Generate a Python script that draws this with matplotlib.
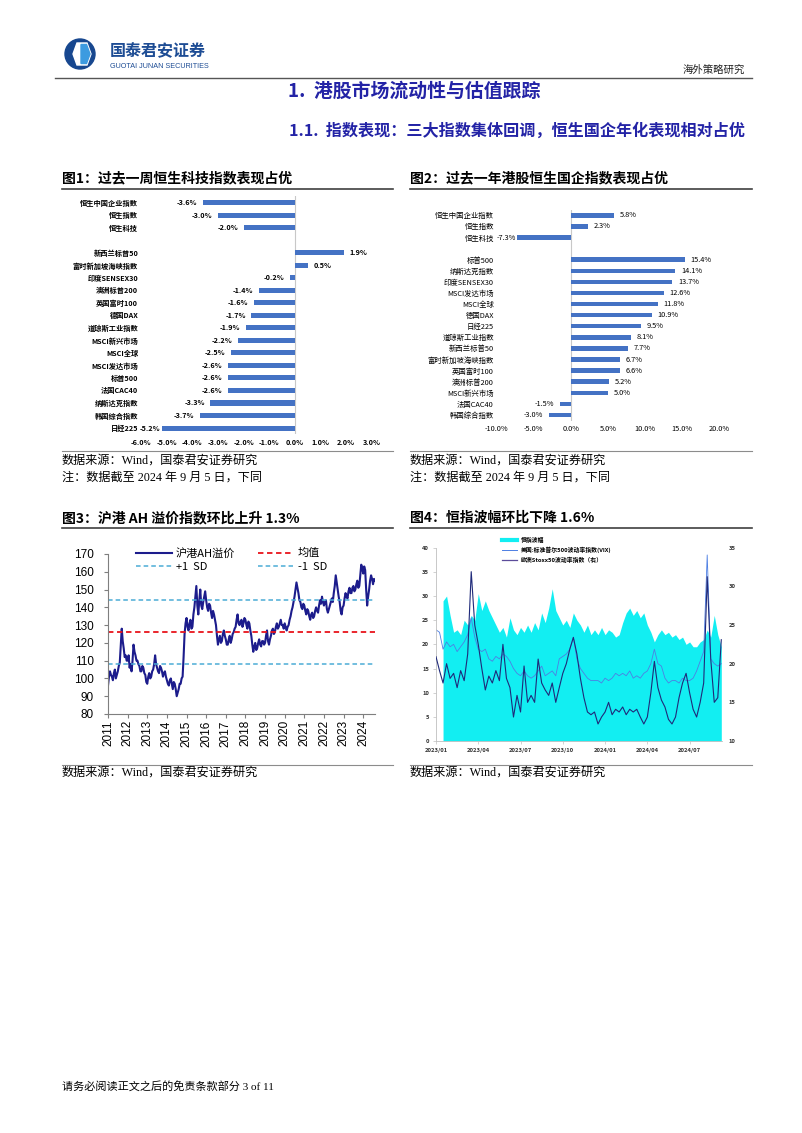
import matplotlib
matplotlib.use('Agg')
import matplotlib.pyplot as plt
import numpy as np
from matplotlib.patches import Circle, Polygon
from matplotlib.lines import Line2D

plt.rcParams['font.family'] = ['Noto Sans CJK SC', 'DejaVu Sans']
plt.rcParams['axes.unicode_minus'] = False

SERIF = ['Liberation Serif', 'Noto Sans CJK SC']
SANS = ['Liberation Sans', 'Noto Sans CJK SC']
BAR = '#4472C4'
HEAD = '#2323A6'

# ---- data: chart 1 (past week) ----
week_hk_names = ['恒生中国企业指数', '恒生指数', '恒生科技']
week_hk_vals = [-3.6, -3.0, -2.0]
week_gl_names = ['新西兰标普50', '富时新加坡海峡指数', '印度SENSEX30', '澳洲标普200',
                 '英国富时100', '德国DAX', '道琼斯工业指数', 'MSCI新兴市场', 'MSCI全球',
                 'MSCI发达市场', '标普500', '法国CAC40', '纳斯达克指数', '韩国综合指数', '日经225']
week_gl_vals = [1.9, 0.5, -0.2, -1.4, -1.6, -1.7, -1.9, -2.2, -2.5, -2.6, -2.6, -2.6, -3.3, -3.7, -5.2]

# ---- data: chart 2 (past year) ----
year_hk_names = ['恒生中国企业指数', '恒生指数', '恒生科技']
year_hk_vals = [5.8, 2.3, -7.3]
year_gl_names = ['标普500', '纳斯达克指数', '印度SENSEX30', 'MSCI发达市场', 'MSCI全球', '德国DAX',
                 '日经225', '道琼斯工业指数', '新西兰标普50', '富时新加坡海峡指数', '英国富时100',
                 '澳洲标普200', 'MSCI新兴市场', '法国CAC40', '韩国综合指数']
year_gl_vals = [15.4, 14.1, 13.7, 12.6, 11.8, 10.9, 9.5, 8.1, 7.7, 6.7, 6.6, 5.2, 5.0, -1.5, -3.0]

# ---- data: chart 3 (AH premium, sampled every 0.05 year from 2011.0) ----
ah_vals = [96, 101, 104, 102, 101, 99, 103, 105, 100, 102, 104, 107, 109, 118, 128, 121, 117, 112, 113, 110,
           110, 113, 106, 108, 104, 110, 119, 115, 113, 110, 110, 108, 107, 104, 104, 107, 106, 103, 102, 98,
           97, 101, 103, 100, 101, 104, 105, 108, 113, 108, 106, 104, 103, 107, 106, 104, 101, 103, 104, 101,
           99, 97, 96, 99, 100, 97, 94, 98, 97, 94, 90, 92, 94, 97, 97, 100, 101, 112, 125, 131,
           134, 129, 127, 131, 133, 128, 129, 136, 140, 146, 152, 141, 136, 144, 150, 141, 139, 143, 146, 149,
           144, 140, 138, 142, 141, 137, 134, 138, 136, 133, 130, 124, 119, 122, 124, 120, 121, 125, 127, 124,
           122, 119, 119, 122, 124, 120, 122, 125, 126, 128, 129, 133, 136, 131, 130, 132, 133, 129, 131, 134,
           133, 130, 128, 132, 131, 127, 124, 119, 115, 118, 120, 116, 117, 120, 122, 119, 118, 121, 121, 119,
           120, 124, 127, 121, 119, 122, 124, 127, 128, 125, 126, 129, 131, 128, 129, 131, 133, 130, 130, 128,
           131, 129, 127, 129, 130, 133, 135, 138, 140, 143, 146, 150, 154, 151, 148, 144, 143, 140, 139, 142,
           141, 138, 136, 139, 138, 135, 133, 136, 137, 134, 135, 138, 140, 138, 137, 141, 144, 142, 146, 143,
           141, 143, 144, 139, 137, 139, 141, 143, 145, 143, 148, 152, 158, 154, 150, 146, 143, 138, 136, 140,
           141, 145, 148, 146, 145, 149, 151, 148, 148, 151, 152, 149, 150, 153, 155, 151, 152, 158, 164, 162,
           159, 163, 161, 150, 141, 146, 150, 155, 158, 156, 153, 156, 155]
ah_years = 2011 + 0.05 * np.arange(len(ah_vals))
ah_mean, ah_up, ah_dn = 126, 144, 108
year_ticks = list(range(2011, 2025))

# ---- data: chart 4 (months since 2023/01, weekly samples) ----
hsi_vol = [29, 30, 26, 22.5, 23, 22, 25, 24, 26, 25, 30.5, 27, 29, 27, 25.5, 24, 22.5, 23.5,
           21.5, 25.5, 23, 22, 23.5, 22.5, 24, 22.5, 24.5, 23, 26.5, 24.5, 27.5, 31.5, 27, 25.5,
           24, 25, 23.5, 26.5, 25, 24, 22.5, 24, 22, 23, 22, 23.5, 22, 23, 22.5, 21.5, 22, 24.5,
           26.5, 27.5, 26, 27, 25.5, 26.5, 24, 22.5, 20.5, 22, 23, 22, 22.5, 21.5, 22, 21, 21.5,
           20, 20.5, 19.5, 19.5, 20.5, 21, 23, 21.5, 26, 22, 19.5]
hsi_m = 0.5 + 0.25 * np.arange(len(hsi_vol))
vix = [23, 22.5, 19, 20.5, 19.5, 20, 18.5, 19.5, 20.5, 22, 25.5, 21.5, 19, 18.5, 19, 17, 16.5,
       17.5, 17, 18, 17.5, 16.5, 15, 14, 13.5, 14.5, 13.5, 13, 13.5, 14.5, 15.5, 13.5, 14, 14.5,
       13.5, 17, 17.5, 18, 19, 21.5, 17, 15, 14, 13, 12.5, 12.5, 12.5, 12, 13, 12.5, 13, 14,
       13.5, 14, 13.5, 14.5, 13, 13.5, 13, 14, 14.5, 16, 19, 16, 15.5, 13, 12, 12.5, 12.5, 12,
       13, 12.5, 12.5, 13, 14.5, 16.5, 18.5, 38.5, 17, 16, 15.5, 16]
vix_m = 0.25 * np.arange(len(vix))
stoxx = [20.9, 19.1, 17.5, 20, 18.1, 18.75, 16.9, 19.1, 17.8, 21.25, 31.9, 25, 22.5, 19.4,
         16.6, 18.4, 17.5, 19.1, 17.8, 22.5, 18.1, 16.9, 13.1, 15.9, 13.75, 19.7, 15, 15.9, 15,
         20.6, 17.5, 16.6, 15.9, 17.5, 15, 16.9, 18.75, 20, 21.9, 23.4, 21.25, 18.1, 15.6, 13.75,
         13.4, 13.75, 12.2, 13.1, 13.75, 15, 13.4, 14.1, 13.75, 14.4, 13.4, 14.1, 13.75, 14.1,
         13.1, 12.2, 13.1, 16.25, 20.3, 16.9, 15.3, 14.4, 12.8, 12.2, 13.1, 15.6, 17.5, 18.75,
         16.25, 14.1, 13.1, 15, 17.5, 31.25, 20.6, 15, 15.6, 23.1]
stoxx_m = 0.25 * np.arange(len(stoxx))
m_ticks = [0, 3, 6, 9, 12, 15, 18]
m_labels = ['2023/01', '2023/04', '2023/07', '2023/10', '2024/01', '2024/04', '2024/07']

W, H = 802, 1133


def box(x0, y0, x1, y1):
    return [x0 / W, 1 - y1 / H, (x1 - x0) / W, (y1 - y0) / H]


fig = plt.figure(figsize=(W / 100, H / 100), dpi=100)
page = fig.add_axes([0, 0, 1, 1])
page.set_xlim(0, W)
page.set_ylim(H, 0)
page.axis('off')

# header / logo
page.add_patch(Circle((80, 54), 15, color='#17478F'))
page.add_patch(Polygon([(73, 54), (77, 43), (87, 43), (91, 54), (87, 65), (77, 65)], color='white'))
page.add_patch(Polygon([(81, 44.5), (86.5, 44.5), (90, 54), (86.5, 63.5), (81, 63.5)], color='#3D9BE0'))
page.text(110, 51, '国泰君安证券', fontsize=11.5, weight='bold', color='#1D4C94', va='center')
page.text(110, 66, 'GUOTAI JUNAN SECURITIES', fontsize=5.2, color='#1D4C94', va='center',
          family=SANS)
page.text(745, 70, '海外策略研究', fontsize=7.5, color='#222222', ha='right', va='center')
page.plot([55, 752], [78, 78], color='#555555', lw=1.0)

page.text(288, 91, '1.  港股市场流动性与估值跟踪', fontsize=13.6, weight='bold', color=HEAD,
          va='center')
page.text(745, 131, '1.1.  指数表现：三大指数集体回调，恒生国企年化表现相对占优', fontsize=11.6,
          weight='bold', color=HEAD, ha='right', va='center')

titles = [(62, 178, '图1：过去一周恒生科技指数表现占优'),
          (410, 178, '图2：过去一年港股恒生国企指数表现占优'),
          (62, 518, '图3：沪港 AH 溢价指数环比上升 1.3%'),
          (410, 518, '图4：恒指波幅环比下降 1.6%')]
for x, y, t in titles:
    page.text(x, y, t, fontsize=10, weight='bold', va='center')
for y in (189, 528):
    page.plot([62, 393], [y, y], color='#404040', lw=1.2)
    page.plot([410, 752], [y, y], color='#404040', lw=1.2)
for y in (451, 765):
    page.plot([62, 393], [y, y], color='#8C8C8C', lw=0.8)
    page.plot([410, 752], [y, y], color='#8C8C8C', lw=0.8)
for x in (62, 410):
    page.text(x, 461, '数据来源：Wind，国泰君安证券研究', fontsize=8.7, va='center', family=SERIF)
    page.text(x, 478, '注：数据截至 2024 年 9 月 5 日，下同', fontsize=8.7, va='center', family=SERIF)
    page.text(x, 773, '数据来源：Wind，国泰君安证券研究', fontsize=8.7, va='center', family=SERIF)
page.text(62, 1086, '请务必阅读正文之后的免责条款部分 3 of 11', fontsize=8, va='center', family=SERIF)


def bar_panel(rect, hk_names, hk_vals, gl_names, gl_vals, xlim, step, fs, weight):
    ax = fig.add_axes(rect)
    names = hk_names + [''] + gl_names
    vals = hk_vals + [None] + gl_vals
    pos = [i for i, v in enumerate(vals) if v is not None]
    vv = [v for v in vals if v is not None]
    ax.barh(pos, vv, height=0.4, color=BAR, zorder=2)
    ax.axvline(0, color='#C8C8C8', lw=0.8, zorder=1)
    for p, v in zip(pos, vv):
        if v >= 0:
            off = 4
        elif v - xlim[0] < 1.2 * step:
            off = -0.8   # bars near the left edge: label sits tight against the bar end
        else:
            off = -4
        ax.annotate(f'{v:.1f}%', (v, p), xytext=(off, 0),
                    textcoords='offset points', ha='left' if v >= 0 else 'right',
                    va='center', fontsize=fs, weight=weight)
    ax.set_xlim(*xlim)
    ax.set_ylim(len(vals) - 0.5, -0.5)
    ax.set_yticks(range(len(vals)), names, fontsize=fs, weight=weight)
    ticks = np.arange(xlim[0], xlim[1] + step / 2, step)
    ax.set_xticks(ticks, [f'{t:.1f}%' for t in ticks], fontsize=fs, weight=weight)
    ax.tick_params(axis='both', length=0)
    ax.tick_params(axis='x', pad=3.5)
    ax.tick_params(axis='y', pad=2)
    for s in ax.spines.values():
        s.set_visible(False)
    return ax


bar_panel(box(141, 196.4, 371.7, 434.3), week_hk_names, week_hk_vals, week_gl_names,
          week_gl_vals, (-6, 3), 1, 5.2, 'bold')
bar_panel(box(496.7, 209.8, 719, 420.5), year_hk_names, year_hk_vals, year_gl_names,
          year_gl_vals, (-10, 20), 5, 5.3, 'normal')

# ---- chart 3 ----
ax3 = fig.add_axes(box(108, 554, 375, 714))
l_ah, = ax3.plot(ah_years, ah_vals, color='#1C1C8C', lw=1.5, label='沪港AH溢价')
l_mean = ax3.axhline(ah_mean, color='#E8141B', ls=(0, (3, 2)), lw=1.3, label='均值')
l_up = ax3.axhline(ah_up, color='#4BACD6', ls=(0, (3, 2)), lw=1.1, label='+1  SD')
l_dn = ax3.axhline(ah_dn, color='#4BACD6', ls=(0, (3, 2)), lw=1.1, label='-1  SD')
ax3.set_xlim(2011, ah_years[-1])
ax3.set_ylim(80, 170)
ax3.set_yticks(range(80, 171, 10))
ax3.set_xticks(year_ticks)
ax3.set_xticklabels([str(y) for y in year_ticks], rotation=90)
for lab in ax3.get_xticklabels() + ax3.get_yticklabels():
    lab.set_family(SANS)
    lab.set_fontsize(8.5)
ax3.tick_params(axis='both', length=3, width=0.8, color='#7F7F7F')
ax3.tick_params(axis='y', pad=7)
ax3.tick_params(axis='x', pad=1.5)
for s in ('top', 'right'):
    ax3.spines[s].set_visible(False)
for s in ('left', 'bottom'):
    ax3.spines[s].set_color('#7F7F7F')
    ax3.spines[s].set_linewidth(0.8)
ax3.legend([l_ah, l_up, l_mean, l_dn], ['沪港AH溢价', '+1  SD', '均值', '-1  SD'], ncol=2,
           frameon=False, loc='upper left', bbox_to_anchor=((136 - 108) / 267, 1.04),
           borderpad=0, borderaxespad=0, handlelength=3.2, handletextpad=0.4,
           columnspacing=2.0, labelspacing=0.35, fontsize=8)

# ---- chart 4 ----
ax4 = fig.add_axes(box(436, 547.7, 722, 741))
ax4.fill_between(hsi_m, hsi_vol, 0, color='#12EEF2', lw=0, zorder=1)
ax4.plot(vix_m, vix, color='#4D7FE3', lw=0.6, zorder=2)
ax4.set_xlim(0, 20.3)
ax4.set_ylim(0, 40)
ax4.set_yticks(range(0, 41, 5))
ax4.set_xticks(m_ticks, m_labels)
ax4r = ax4.twinx()
ax4r.plot(stoxx_m, stoxx, color='#1F2A7A', lw=0.8)
ax4r.set_ylim(10, 35)
ax4r.set_yticks(range(10, 36, 5))
for a in (ax4, ax4r):
    for lab in a.get_xticklabels() + a.get_yticklabels():
        lab.set_fontsize(4.2)
        lab.set_weight('bold')
        lab.set_color('#333333')
    a.tick_params(axis='both', length=2, width=0.5, color='#BFBFBF', pad=3)
    for s in ('top', 'right'):
        a.spines[s].set_visible(False)
    for s in ('left', 'bottom'):
        a.spines[s].set_color('#BFBFBF')
        a.spines[s].set_linewidth(0.6)
ax4r.spines['left'].set_visible(False)
ax4r.spines['bottom'].set_visible(False)
ax4r.tick_params(axis='y', length=0, pad=5)
hs = [Line2D([], [], color='#12EEF2', lw=3), Line2D([], [], color='#4D7FE3', lw=0.7),
      Line2D([], [], color='#5B4C9A', lw=0.9)]
ax4r.legend(hs, ['恒指波幅', '美国:标准普尔500波动率指数(VIX)', '欧洲Stoxx50波动率指数（右）'],
            frameon=False, loc='upper left', bbox_to_anchor=((502 - 436) / 286, 1.055),
            borderpad=0, borderaxespad=0, handlelength=2.6, handletextpad=0.6,
            labelspacing=0.6, prop={'size': 4.2, 'weight': 'bold'})

fig.savefig('out.png', dpi=100)
